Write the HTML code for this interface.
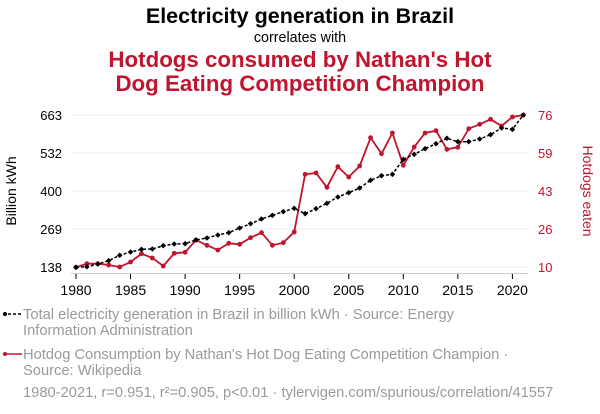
<!DOCTYPE html>
<html><head><meta charset="utf-8"><style>
html,body{margin:0;padding:0;background:#fff;width:600px;height:414px;overflow:hidden}
svg{display:block;font-family:"Liberation Sans",Arial,sans-serif}
</style></head><body>
<svg id="s" width="600" height="414" viewBox="0 0 600 414">
<text x="300" y="23" text-anchor="middle" font-size="21.5" font-weight="bold" fill="#000">Electricity generation in Brazil</text>
<text x="300" y="42" text-anchor="middle" font-size="14.3" fill="#000">correlates with</text>
<text x="300" y="67" text-anchor="middle" font-size="22.3" font-weight="bold" fill="#c0152f">Hotdogs consumed by Nathan's Hot</text>
<text x="300" y="91" text-anchor="middle" font-size="22.3" font-weight="bold" fill="#c0152f">Dog Eating Competition Champion</text>
<g stroke="#eee" stroke-width="1">
<line x1="71" x2="528" y1="115" y2="115"/><line x1="71" x2="528" y1="153" y2="153"/><line x1="71" x2="528" y1="191" y2="191"/><line x1="71" x2="528" y1="229" y2="229"/><line x1="71" x2="528" y1="267" y2="267"/>
</g>
<line x1="71" x2="528" y1="273.5" y2="273.5" stroke="#ccc"/>
<g font-size="13" fill="#000" text-anchor="end">
<text x="62" y="120">663</text><text x="62" y="158">532</text><text x="62" y="196">400</text><text x="62" y="234">269</text><text x="62" y="272">138</text>
</g>
<g font-size="13" fill="#c0152f" text-anchor="start">
<text x="538" y="120">76</text><text x="538" y="158">59</text><text x="538" y="196">43</text><text x="538" y="234">26</text><text x="538" y="272">10</text>
</g>
<text transform="translate(16,191) rotate(-90)" text-anchor="middle" font-size="14" fill="#000">Billion kWh</text>
<text transform="translate(583,191) rotate(90)" text-anchor="middle" font-size="14" fill="#c0152f">Hotdogs eaten</text>
<g id="xt" font-size="14" fill="#000" text-anchor="middle"></g>
<g id="plot"></g>
<g font-size="14.7" fill="#9a9a9a">
<line x1="3" x2="22" y1="314" y2="314" stroke="#000" stroke-width="1.5" stroke-dasharray="3,2"/><circle cx="5" cy="314" r="2" fill="#000"/>
<text x="23" y="319">Total electricity generation in Brazil in billion kWh · Source: Energy</text>
<text x="23" y="335">Information Administration</text>
<line x1="3" x2="22" y1="354" y2="354" stroke="#c0152f" stroke-width="1.5"/><circle cx="5" cy="354" r="2" fill="#c0152f"/>
<text x="23" y="359">Hotdog Consumption by Nathan's Hot Dog Eating Competition Champion ·</text>
<text x="23" y="375">Source: Wikipedia</text>
<text x="23" y="397">1980-2021, r=0.951, r²=0.905, p&lt;0.01 · tylervigen.com/spurious/correlation/41557</text>
</g>
</svg>
<script>
var b=[502,500,492,482,466,456,448,447,437,432,431,420,414,405,398,384,371,357,346,335,325,341,326,310,291,278,264,241,227,223,178,163,146,131,115,125,125,117,104,84,88,45];
var r=[502,491,491,495,501,486,461,474,498,460,457,420,436,450,430,433,413,398,436,428,396,223,219,262,200,231,198,113,161,99,196,141,99,92,148,142,86,73,58,78,51,45];
var ns="http://www.w3.org/2000/svg",p=document.getElementById('plot'),xt=document.getElementById('xt');
function X(i){return 60+(48+i*32.73)/3}function Y(z){return 100+z/3}
function el(t,a,par){var e=document.createElementNS(ns,t);for(var k in a)e.setAttribute(k,a[k]);(par||p).appendChild(e);return e}
var pr=r.map(function(z,i){return X(i).toFixed(1)+','+Y(z).toFixed(1)}).join(' ');
var pb=b.map(function(z,i){return X(i).toFixed(1)+','+Y(z).toFixed(1)}).join(' ');
el('polyline',{points:pr,fill:'none',stroke:'#c0152f','stroke-width':1.8});
r.forEach(function(z,i){el('circle',{cx:X(i),cy:Y(z),r:2.4,fill:'#c0152f'})});
el('polyline',{points:pb,fill:'none',stroke:'#000','stroke-width':1.5,'stroke-dasharray':'3,2'});
b.forEach(function(z,i){var x=X(i),y=Y(z);el('polygon',{points:(x)+','+(y-2.8)+' '+(x+2.8)+','+y+' '+x+','+(y+2.8)+' '+(x-2.8)+','+y,fill:'#000'})});
for(var yr=1980;yr<=2020;yr+=5){var x=X(yr-1980);el('line',{x1:x,x2:x,y1:274,y2:279,stroke:'#000'},xt);var t=el('text',{x:x,y:295},xt);t.textContent=yr;}
</script>
</body></html>
